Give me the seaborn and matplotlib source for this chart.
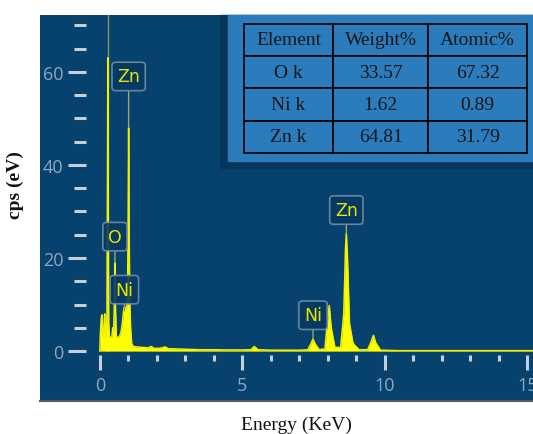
import numpy as np
import pandas as pd
import matplotlib
matplotlib.use("Agg")
import matplotlib.pyplot as plt
from matplotlib.patches import Rectangle
from matplotlib.lines import Line2D
from matplotlib.ticker import FixedLocator
import seaborn as sns

# EDS spectrum (keV, cps)
energy = [0.00, 0.02, 0.05, 0.07, 0.09, 0.12, 0.15, 0.17, 0.19, 0.22, 0.25, 0.27, 0.28, 0.29,
          0.31, 0.34, 0.38, 0.42, 0.45, 0.48, 0.51, 0.53, 0.55, 0.58, 0.62, 0.68, 0.74, 0.79,
          0.83, 0.86, 0.90, 0.94, 0.97, 0.99, 1.01, 1.03, 1.05, 1.08, 1.12, 1.18, 1.30, 1.50,
          1.70, 1.80, 1.90, 2.10, 2.30, 2.40, 2.60, 3.00, 3.50, 4.00, 4.50, 5.00, 5.30, 5.42,
          5.55, 6.00, 6.50, 7.00, 7.30, 7.40, 7.48, 7.56, 7.70, 7.90, 7.98, 8.05, 8.12, 8.25,
          8.45, 8.56, 8.62, 8.65, 8.69, 8.76, 8.88, 8.95, 9.10, 9.40, 9.52, 9.60, 9.68, 9.85,
          10.5, 12.0, 13.5, 15.5]
cps = [0, 4, 7, 7.8, 4, 3, 6, 8, 4, 3, 8, 40, 63, 40,
       6, 3, 3, 3, 5, 4, 10, 19, 9, 3, 3, 3, 4, 6,
       8.5, 9.5, 9, 9.5, 12, 25, 48, 25, 11, 5, 1.5, 1.0, 0.9, 0.8,
       0.7, 1.0, 0.6, 0.6, 0.9, 0.5, 0.5, 0.4, 0.3, 0.3, 0.25, 0.25, 0.3, 1.0,
       0.3, 0.2, 0.2, 0.2, 0.3, 1.5, 2.6, 1.5, 0.3, 0.5, 6, 9.8, 5, 0.8,
       0.8, 8, 22, 25.3, 20, 6, 1.8, 1.2, 0.3, 0.3, 2, 3.4, 1.8, 0.2,
       0.1, 0.1, 0.1, 0.1]

# peak labels
peak_names = ["Zn", "O", "Ni", "Ni", "Zn"]
peak_energy = [1.01, 0.53, 0.86, 7.48, 8.65]
peak_top = [48, 19, 8.5, 2.6, 25.3]
label_y = [59, 24.6, 13.2, 7.7, 30.3]

# quantification table
table_cols = ["Element", "Weight%", "Atomic%"]
elements = ["O k", "Ni k", "Zn k"]
weight_pct = ["33.57", "1.62", "64.81"]
atomic_pct = ["67.32", "0.89", "31.79"]

df = pd.DataFrame({"energy": energy, "cps": cps})

bg = "#07416e"
tick_col = "#c3cfdb"
lab_col = "#8ea7bf"

fig = plt.figure(figsize=(5.33, 4.35), dpi=100)
ax = fig.add_axes([40 / 533, 34 / 435, 493 / 533, 385 / 435])
ax.set_facecolor(bg)
ax.set_xlim(-2.1, 15.2)
ax.set_ylim(-10.5, 72.2)

# faint marker line on the tallest peak, from baseline to top
y0, y1 = ax.get_ylim()
ax.axvline(df.energy[df.cps.idxmax()], ymin=(0 - y0) / (y1 - y0), color="#b8c458",
           lw=1, alpha=0.7, zorder=1)
ax.fill_between(df.energy, 0, df.cps, color="#ffff00", lw=0, zorder=2)
sns.lineplot(data=df, x="energy", y="cps", ax=ax, color="#f2f200", lw=1.1, zorder=3)

for name, e, top, ly in zip(peak_names, peak_energy, peak_top, label_y):
    ax.annotate(name, xy=(e, top), xytext=(e, ly), textcoords="data",
                ha="center", va="center", fontsize=12.5, color="#e6e600",
                fontfamily="DejaVu Sans", zorder=6,
                bbox=dict(boxstyle="round,pad=0.3,rounding_size=0.2", fc="#063a62",
                          ec="#6f8ea8", lw=1.2, alpha=0.9),
                arrowprops=dict(arrowstyle="-", color="#9aa86a", lw=1, shrinkA=0, shrinkB=0))

# ticks on offset spines
for s in ax.spines.values():
    s.set_visible(False)
ax.spines["left"].set_position(("data", -0.5))
ax.spines["bottom"].set_position(("data", -0.86))
ax.set_xticks([0, 5, 10, 15])
ax.set_yticks([0, 20, 40, 60])
ax.xaxis.set_minor_locator(FixedLocator(np.arange(0, 16, 1)))
ax.yaxis.set_minor_locator(FixedLocator(np.arange(0, 71, 5)))
ax.tick_params(axis="y", which="major", direction="out", length=13, width=2.2,
               color=tick_col, labelcolor=lab_col, labelsize=13, pad=3)
ax.tick_params(axis="y", which="minor", direction="out", length=8.6, width=2.2, color=tick_col)
ax.tick_params(axis="x", which="major", direction="out", length=10.8, width=2.2,
               color=tick_col, labelcolor=lab_col, labelsize=13, pad=4)
ax.tick_params(axis="x", which="minor", direction="out", length=4.3, width=2.2, color=tick_col)
for t in ax.get_xticklabels() + ax.get_yticklabels():
    t.set_fontfamily("Open Sans")

ax.set_xlabel("Energy (KeV)", fontsize=14, fontfamily="Liberation Serif", color="#111111")
ax.set_ylabel("cps (eV)", fontsize=14, fontfamily="Liberation Serif", fontweight="bold",
              color="#111111")
ax.xaxis.set_label_coords(0.52, -0.062)
ax.xaxis.label.set_va("center")
ax.yaxis.set_label_coords(-0.051, 0.56)
ax.yaxis.label.set_va("center")

# table panel
ax.add_patch(Rectangle((0.366, 0.603), 0.64, 0.397, transform=ax.transAxes,
                       color="#08365a", zorder=7, clip_on=False))
ax.add_patch(Rectangle((0.381, 0.621), 0.62, 0.379, transform=ax.transAxes,
                       color="#2a7cbd", zorder=8, clip_on=False))
cells = [[a, b, c] for a, b, c in zip(elements, weight_pct, atomic_pct)]
tbl = ax.table(cellText=cells, colLabels=table_cols, cellLoc="center",
               bbox=[0.414, 0.642, 0.574, 0.335], colWidths=[89, 95, 99], zorder=9)
tbl.auto_set_font_size(False)
for (r, c), cell in tbl.get_celld().items():
    cell.set_facecolor("#2a7cbd")
    cell.set_edgecolor("#000000")
    cell.set_linewidth(1.2)
    cell.get_text().set_fontsize(14)
    cell.get_text().set_fontfamily("Liberation Serif")
    cell.get_text().set_color("#151515")

# shadow under the dark panel
ax.add_line(Line2D([0, 1], [-0.003, -0.003], transform=ax.transAxes, color="#5a5a5a",
                   lw=1.5, clip_on=False))

fig.savefig("out.png", dpi=100, facecolor="white")
